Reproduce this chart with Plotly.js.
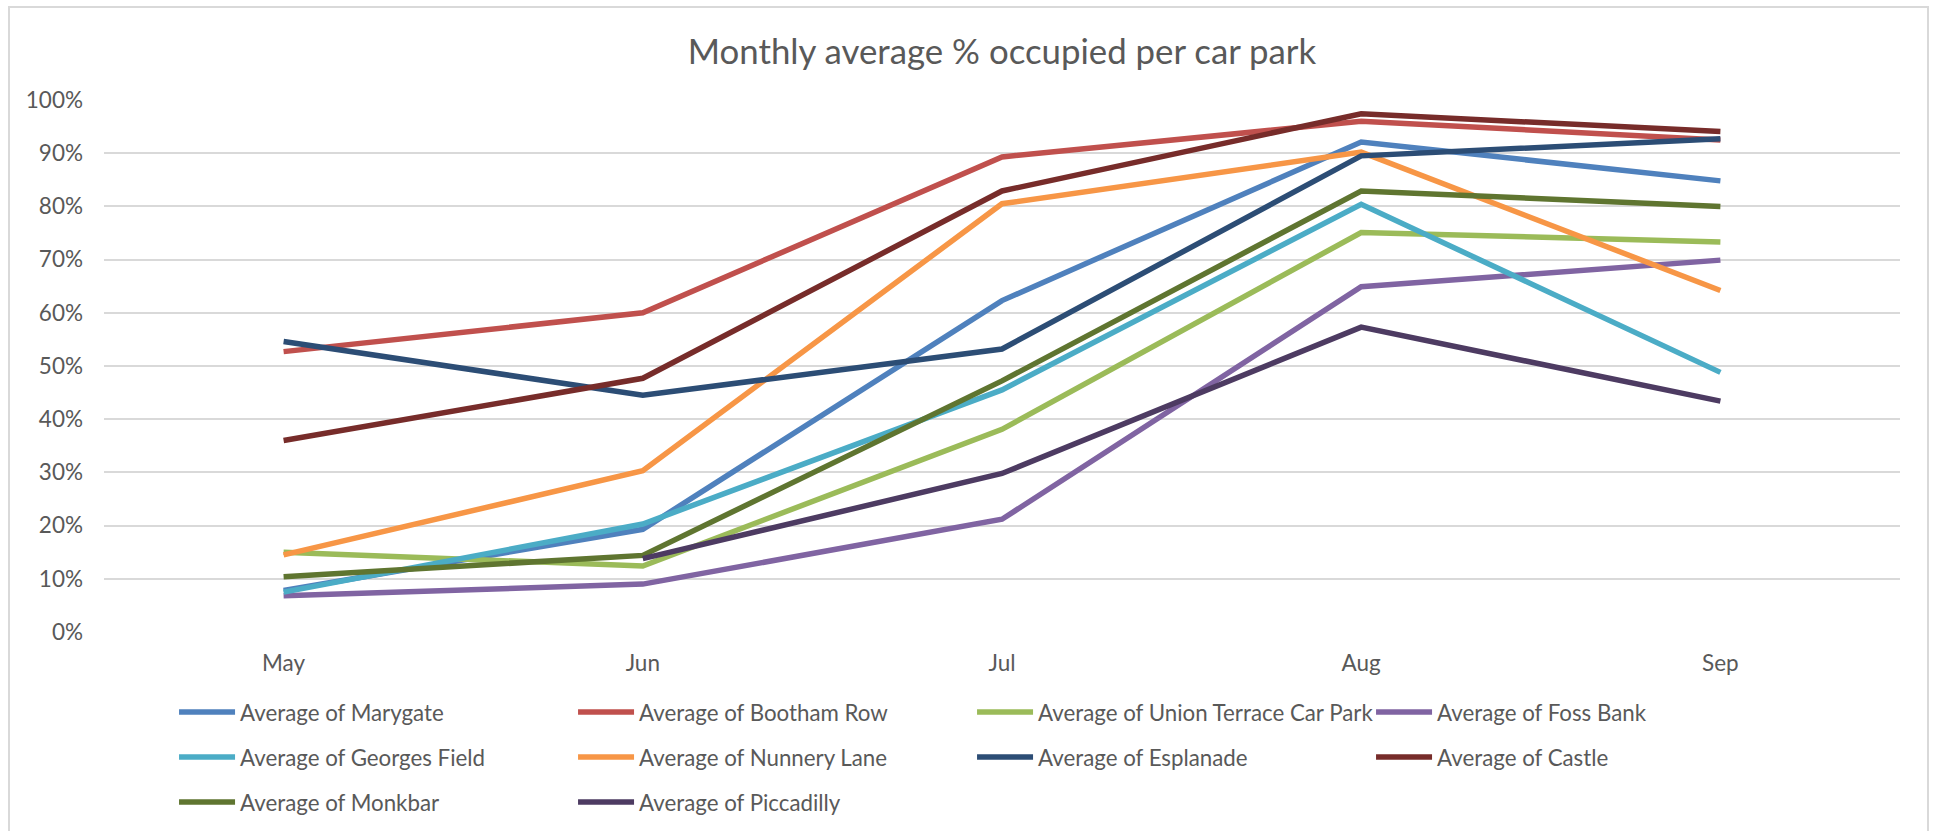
<!DOCTYPE html>
<html>
<head>
<meta charset="utf-8">
<script src="https://cdn.plot.ly/plotly-3.0.1.min.js"></script>
<style>
  html, body { margin: 0; padding: 0; background: #fff; overflow: hidden; }
  #chart { width: 1940px; height: 831px; }
  #frame { position: absolute; left: 8px; top: 6px; width: 1917px; height: 840px;
           border: 2px solid #d9d9d9; pointer-events: none; }
</style>
</head>
<body>
<div id="chart"></div>
<div id="frame"></div>
<script>
const months = ['May', 'Jun', 'Jul', 'Aug', 'Sep'];

const marygate     = [0.078, 0.193, 0.623, 0.921, 0.848];
const boothamRow   = [0.527, 0.600, 0.893, 0.960, 0.925];
const unionTerrace = [0.150, 0.124, 0.381, 0.751, 0.733];
const fossBank     = [0.068, 0.090, 0.212, 0.649, 0.699];
const georgesField = [0.075, 0.203, 0.455, 0.804, 0.488];
const nunneryLane  = [0.145, 0.303, 0.805, 0.902, 0.642];
const esplanade    = [0.546, 0.445, 0.532, 0.895, 0.927];
const castle       = [0.360, 0.477, 0.829, 0.974, 0.941];
const monkbar      = [0.104, 0.144, 0.472, 0.829, 0.800];
const piccadilly   = [null, 0.138, 0.298, 0.573, 0.434];

const seriesNames = [
  'Average of Marygate', 'Average of Bootham Row', 'Average of Union Terrace Car Park',
  'Average of Foss Bank', 'Average of Georges Field', 'Average of Nunnery Lane',
  'Average of Esplanade', 'Average of Castle', 'Average of Monkbar', 'Average of Piccadilly'
];
const seriesValues = [
  marygate, boothamRow, unionTerrace, fossBank, georgesField,
  nunneryLane, esplanade, castle, monkbar, piccadilly
];
const seriesColors = [
  '#4f81bd', '#c0504d', '#9bbb59', '#8064a2', '#4bacc6',
  '#f79646', '#2c4d75', '#772c2a', '#5f7530', '#4d3b62'
];

// excel fills the legend row by row, four per row
const legendRows = ['legend', 'legend', 'legend', 'legend',
                    'legend2', 'legend2', 'legend2', 'legend2',
                    'legend3', 'legend3'];

const traces = seriesNames.map((name, i) => ({
  x: months,
  y: seriesValues[i],
  name: name,
  type: 'scatter',
  mode: 'lines',
  legend: legendRows[i],
  line: { color: seriesColors[i], width: 5.5 },
  hoverinfo: 'x+y+name'
}));

const font = 'Lato, "Open Sans", sans-serif';

// legends placed against the container so they don't push the plot margin
function legendRow(y) {
  return {
    orientation: 'h',
    x: 0.039, xanchor: 'left',
    yref: 'container',
    y: y, yanchor: 'middle',
    entrywidth: 328,
    itemwidth: 56,
    bgcolor: 'rgba(0,0,0,0)',
    font: { family: font, size: 22.3, color: '#595959' },
    traceorder: 'normal'
  };
}

const layout = {
  width: 1940,
  height: 831,
  margin: { l: 104, r: 40, t: 100, b: 199 },
  paper_bgcolor: '#ffffff',
  plot_bgcolor: '#ffffff',
  font: { family: font, color: '#595959' },
  title: {
    text: 'Monthly average % occupied per car park',
    font: { family: font, size: 34.8, color: '#595959' },
    x: 0.5, xref: 'paper', xanchor: 'center',
    y: 1 - 52 / 831, yanchor: 'middle'
  },
  xaxis: {
    type: 'category',
    range: [-0.5, 4.5],
    showgrid: false,
    zeroline: false,
    showline: false,
    ticks: '',
    ticklabelstandoff: 15,
    tickfont: { family: font, size: 22.5, color: '#595959' }
  },
  yaxis: {
    range: [0, 1],
    dtick: 0.1,
    tickformat: '.0%',
    gridcolor: '#d9d9d9',
    gridwidth: 2,
    zeroline: false,
    showline: false,
    ticks: '',
    ticklabelstandoff: 20,
    tickfont: { family: font, size: 22.5, color: '#595959' }
  },
  showlegend: true,
  legend: legendRow(0.1432),
  legend2: legendRow(0.0890),
  legend3: legendRow(0.0349)
};

Plotly.newPlot('chart', traces, layout, { displayModeBar: false, responsive: false });
</script>
</body>
</html>
